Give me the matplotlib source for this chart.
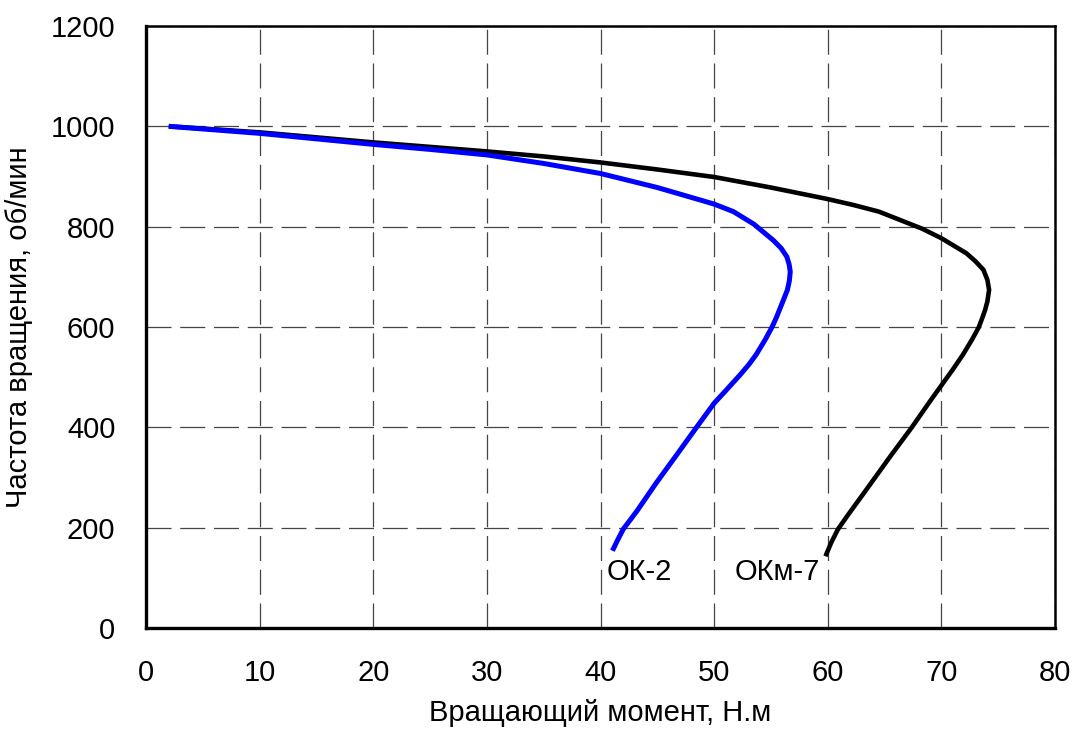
import matplotlib
matplotlib.use("Agg")
import matplotlib.pyplot as plt

plt.rcParams['font.family'] = ['Liberation Sans', 'DejaVu Sans']

# ОК-2 (blue)
ok2_torque = [2.0, 10, 20, 25, 30, 35, 40, 45, 48.8, 50.0, 51.7, 53.5, 55.2, 55.9, 56.4, 56.6,
              56.7, 56.62, 56.45, 56.1, 55.8, 55.5, 55.1, 54.5, 53.7, 53.05, 52.3, 51.1,
              50.0, 48.45, 46.7, 44.9, 43.2, 42.0, 41.5, 41.05]
ok2_speed = [1000, 986, 964, 954, 943, 926, 906, 878, 853, 845, 830, 805, 773, 757, 740, 725,
             710, 692, 674, 654, 637, 620, 600, 575, 545, 525, 505, 475,
             448, 400, 345, 289, 233, 197, 175, 154]

# ОКм-7 (black)
okm7_torque = [2.0, 10, 20, 30, 35, 40, 45, 50, 55, 60, 62.3, 64.5, 66.4, 68.3, 70.0, 72.2,
               73.0, 73.7, 74.05, 74.2, 74.05, 73.85, 73.6, 73.3, 72.7, 71.9, 71.0, 70.14,
               69.0, 67.4, 65.5, 63.5, 61.8, 60.9, 60.3, 59.8]
okm7_speed = [1000, 988, 968, 950, 940, 928, 914, 899, 878, 855, 843, 830, 813, 796, 777, 747,
              731, 714, 694, 674, 651, 634, 618, 600, 575, 545, 515, 488,
              452, 400, 342, 279, 226, 197, 170, 143]

x_ticks = [0, 10, 20, 30, 40, 50, 60, 70, 80]
y_ticks = [0, 200, 400, 600, 800, 1000, 1200]

fig = plt.figure(figsize=(10.75, 7.36), dpi=100)
ax = fig.add_axes([146/1075, 1 - 628/736, (1055-146)/1075, (628-26)/736])

ax.plot(okm7_torque, okm7_speed, color='black', lw=3.3, solid_capstyle='butt',
        solid_joinstyle='round', zorder=3)
ax.plot(ok2_torque, ok2_speed, color='#0000ff', lw=3.6, solid_capstyle='butt',
        solid_joinstyle='round', zorder=4)

ax.set_xlim(0, 80)
ax.set_ylim(0, 1200)
ax.set_xticks(x_ticks)
ax.set_yticks(y_ticks)
ax.grid(True, color='#444444', lw=0.9, linestyle=(0, (20, 7)))
ax.set_axisbelow(True)
ax.tick_params(direction='in', length=0, labelsize=21, pad=22)
for s in ax.spines.values():
    s.set_linewidth(1.8)
ax.spines['left'].set_linewidth(2.4)
ax.spines['bottom'].set_linewidth(2.4)

ax.set_xlabel('Вращающий момент, Н.м', fontsize=21, labelpad=9)
ax.set_ylabel('Частота вращения, об/мин', fontsize=21, labelpad=13)

ax.text(40.5, 112, 'ОК-2', fontsize=21, ha='left', va='center')
ax.text(59.3, 112, 'ОКм-7', fontsize=21, ha='right', va='center')

fig.savefig('out.png', dpi=100)
